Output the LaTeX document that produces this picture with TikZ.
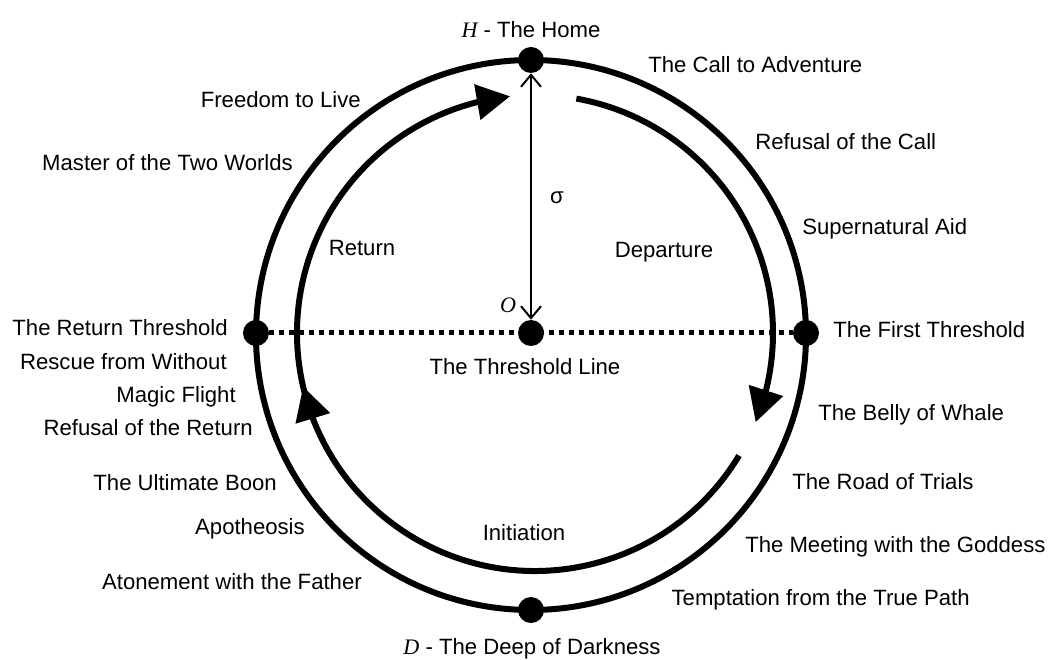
\documentclass[tikz,border=0pt]{standalone}
\usepackage{fontspec}
\setmainfont{Liberation Sans}
\newfontfamily\timesfont{Liberation Serif}
\usetikzlibrary{arrows.meta,bending}

\begin{document}
\begin{tikzpicture}[
  x=0.75pt, y=0.75pt,
  font=\fontsize{16.6}{20}\selectfont,
  ring/.style={
    draw=black,
    line width=4.5pt
  },
  journey/.style={
    draw=black,
    line width=4.5pt,
    -{Triangle[length=25pt,width=26pt,flex]}
  },
  dotnode/.style={
    circle,
    fill=black,
    minimum size=19.5pt,
    inner sep=0pt
  },
  stagetext/.style={
    inner sep=0pt,
    text height=11.9pt,
    text depth=0pt
  },
  threshold/.style={
    draw=black,
    line width=3.75pt,
    dash pattern=on 3.75pt off 3.75pt
  },
  sigarr/.style={
    draw=black,
    line width=1.5pt,
    {Straight Barb[length=9pt,width=15pt]}-{Straight Barb[length=9pt,width=15pt]}
  }
]

\useasboundingbox (-531,-327) rectangle (518,333);

% the journey circle
\draw[ring] (0,-2) circle[radius=275];

\node[dotnode] (home) at (0,273) {};
\node[dotnode] (deep) at (0,-277) {};
\node[dotnode] (retthr) at (-275,0) {};
\node[dotnode] (firstthr) at (275,0) {};
\node[dotnode] (origin) at (0,0) {};

\draw[threshold] (retthr) -- (firstthr);
\draw[sigarr] (origin) -- (home);

% departure, initiation, return
\draw[journey] ([shift={(4,0)}]80:238) arc[start angle=80, end angle=-22, radius=238];
\draw[journey] ([shift={(4,0)}]-31:238) arc[start angle=-31, end angle=-167, radius=238];
\draw[journey] ([shift={(4,0)}]198:238) arc[start angle=198, end angle=96, radius=238];

\node[stagetext] (homelabel) at (0,303) {{\timesfont\itshape H} - The Home};
\node[stagetext] (deeplabel) at (1,-314) {{\timesfont\itshape D} - The Deep of Darkness};
\node[stagetext] (olabel) at (-23,28) {\timesfont\itshape O};
\node[stagetext] (sigma) at (26,137) {σ};
\node[stagetext] (linelabel) at (-6,-34) {The Threshold Line};

\node[stagetext] (departure) at (133,83) {Departure};
\node[stagetext] (initiation) at (-7,-200) {Initiation};
\node[stagetext] (return) at (-169,85) {Return};

\node[stagetext, anchor=west] (call) at (117,268) {The Call to Adventure};
\node[stagetext, anchor=west] (refusal) at (224,191) {Refusal of the Call};
\node[stagetext, anchor=west] (aid) at (271,106) {Supernatural Aid};
\node[stagetext, anchor=west] (first) at (302,3) {The First Threshold};
\node[stagetext, anchor=west] (belly) at (287,-80) {The Belly of Whale};
\node[stagetext, anchor=west] (trials) at (261,-149) {The Road of Trials};
\node[stagetext, anchor=west] (goddess) at (214,-212) {The Meeting with the Goddess};
\node[stagetext, anchor=east] (temptation) at (439,-265) {Temptation from the True Path};

\node[stagetext, anchor=east] (atonement) at (-169,-249) {Atonement with the Father};
\node[stagetext, anchor=east] (apotheosis) at (-226,-194) {Apotheosis};
\node[stagetext, anchor=east] (boon) at (-254,-150) {The Ultimate Boon};
\node[stagetext, anchor=east] (refreturn) at (-278,-95) {Refusal of the Return};
\node[stagetext, anchor=east] (flight) at (-295,-62) {Magic Flight};
\node[stagetext, anchor=east] (rescue) at (-304,-29) {Rescue from Without};
\node[stagetext, anchor=east] (retthrlabel) at (-303,5) {The Return Threshold};
\node[stagetext, anchor=east] (master) at (-238,170) {Master of the Two Worlds};
\node[stagetext, anchor=east] (freedom) at (-170,233) {Freedom to Live};

\end{tikzpicture}
\end{document}
